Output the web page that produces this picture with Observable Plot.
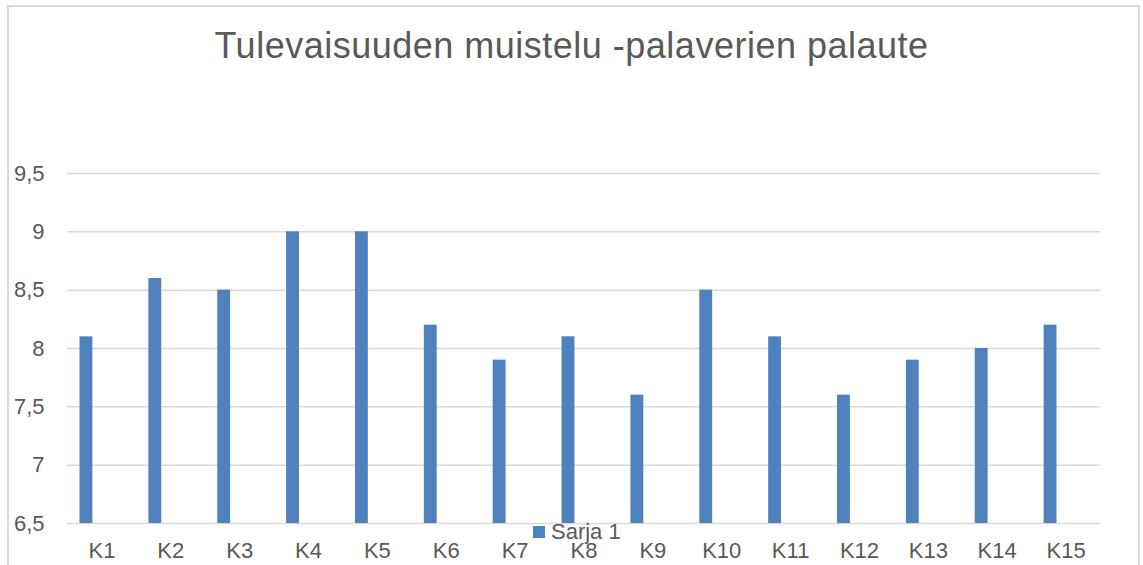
<!DOCTYPE html>
<html>
<head>
<meta charset="utf-8">
<script src="https://cdn.jsdelivr.net/npm/d3@7"></script>
<script src="https://cdn.jsdelivr.net/npm/@observablehq/plot@0.6"></script>
<style>
  html, body { margin: 0; padding: 0; background: #fff; }
  #wrap { position: relative; width: 1143px; height: 565px; overflow: hidden; font-family: "Liberation Sans", Arial, sans-serif; }
  #frame { position: absolute; left: 7px; top: 5px; width: 1133px; height: 600px; border: 2px solid #d9d9d9; box-sizing: border-box; }
  #title { position: absolute; left: 0; width: 1143px; top: 24px; text-align: center; font-size: 36px; letter-spacing: 0.5px; color: #595959; line-height: 44px; }
  #legend { position: absolute; left: 533px; top: 519px; font-size: 22px; color: #595959; line-height: 26px; display: flex; align-items: center; }
  #legend .sw { width: 12px; height: 12px; background: #4f81bd; margin-right: 6px; }
  #chart { position: absolute; left: 0; top: 0; }
</style>
</head>
<body>
<div id="wrap">
  <div id="frame"></div>
  <div id="chart"></div>
  <div id="title">Tulevaisuuden muistelu -palaverien palaute</div>
  <div id="legend"><span class="sw"></span><span>Sarja 1</span></div>
</div>
<script>
const categories = ["K1","K2","K3","K4","K5","K6","K7","K8","K9","K10","K11","K12","K13","K14","K15"];
const values = [8.1, 8.6, 8.5, 9.0, 9.0, 8.2, 7.9, 8.1, 7.6, 8.5, 8.1, 7.6, 7.9, 8.0, 8.2];
const yTicks = [6.5, 7, 7.5, 8, 8.5, 9, 9.5];
const seriesName = "Sarja 1";

const data = categories.map((c, i) => ({category: c, value: values[i], series: seriesName}));
const fmt = d => String(d).replace(".", ",");

const chart = Plot.plot({
  width: 1143,
  height: 565,
  marginLeft: 67,
  marginRight: 43,
  marginTop: 173,
  marginBottom: 42,
  style: {fontFamily: "'Liberation Sans', Arial, sans-serif", background: "transparent", color: "#595959"},
  x: {domain: categories, padding: 0, round: false, label: null},
  y: {domain: [6.5, 9.5], label: null},
  marks: [
    Plot.gridY(yTicks, {stroke: "#d9d9d9", strokeOpacity: 1, strokeWidth: 1.5}),
    Plot.rectY(data, {x: "category", y1: 6.5, y2: "value", fill: "#4f81bd", insetLeft: 12.5, insetRight: 43.5}),
    Plot.axisY(yTicks, {tickSize: 0, tickPadding: 23, tickFormat: fmt, fontSize: 22, fill: "#595959", label: null}),
    Plot.axisX({tickSize: 0, tickPadding: 19, fontSize: 22, fill: "#595959", label: null})
  ]
});
document.getElementById("chart").appendChild(chart);
</script>
</body>
</html>
